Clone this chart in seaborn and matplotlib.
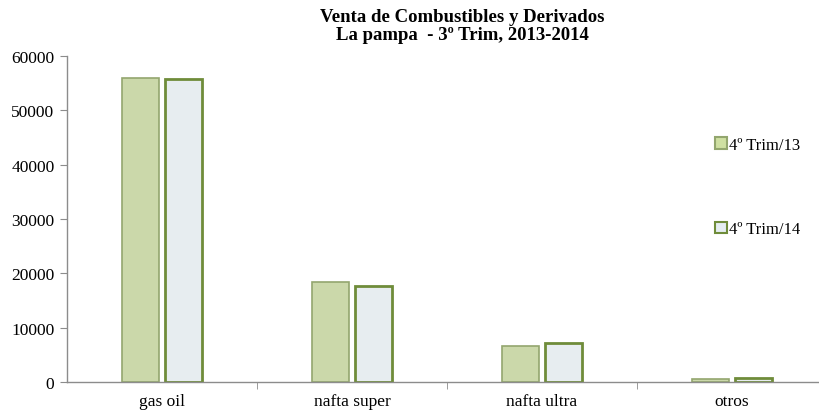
import pandas as pd
import numpy as np
import matplotlib
matplotlib.use('Agg')
import matplotlib.pyplot as plt
import seaborn as sns
from matplotlib.patches import Patch

# datos del gráfico
categorias = ['gas oil', 'nafta super', 'nafta ultra', 'otros']
trim13 = [55900, 18400, 6700, 550]
trim14 = [55800, 17700, 7100, 750]
series = ['4º Trim/13', '4º Trim/14']
yticks = [0, 10000, 20000, 30000, 40000, 50000, 60000]

df = pd.DataFrame({
    'categoria': categorias * 2,
    'valor': trim13 + trim14,
    'serie': [series[0]] * len(categorias) + [series[1]] * len(categorias),
})

sns.set_style('white')
plt.rcParams['font.family'] = ['Liberation Serif', 'DejaVu Serif']
plt.rcParams['text.color'] = 'black'
plt.rcParams['xtick.color'] = 'black'
plt.rcParams['ytick.color'] = 'black'

fill_colors = ['#cfe0a2', '#e5edf1']
edge_colors = ['#93a66e', '#6f8c3a']

fig = plt.figure(figsize=(8.19, 4.14), dpi=100)
ax = fig.add_axes([67 / 819, 31 / 414, 760 / 819, 326 / 414])

sns.barplot(data=df, x='categoria', y='valor', hue='serie', order=categorias,
            hue_order=series, palette=fill_colors, width=0.45, gap=0.12,
            legend=False, ax=ax)

for cont, ec, lw in zip(ax.containers, edge_colors, [1.2, 2.0]):
    for bar in cont:
        bar.set_edgecolor(ec)
        bar.set_linewidth(lw)

ax.set_ylim(0, 60000)
ax.set_xlim(-0.5, 3.5)
ax.set_yticks(yticks)
ax.set_yticklabels([str(v) for v in yticks], fontsize=12.5)
ax.set_xlabel('')
ax.set_ylabel('')
ax.tick_params(axis='x', which='major', length=0, labelsize=12.5, pad=8)
ax.set_xticks([0.5, 1.5, 2.5], minor=True)
ax.tick_params(axis='x', which='minor', length=5, color='#8c8c8c', direction='out', bottom=True)
ax.tick_params(axis='y', length=5, color='#8c8c8c', direction='out', left=True, pad=4)

for side in ['top', 'right']:
    ax.spines[side].set_visible(False)
for side in ['left', 'bottom']:
    ax.spines[side].set_color('#8c8c8c')
    ax.spines[side].set_linewidth(1.0)

fig.text(0.565, 0.978, 'Venta de Combustibles y Derivados\nLa pampa  - 3º Trim, 2013-2014',
         ha='center', va='top', fontsize=13.5, fontweight='bold', linespacing=1.05)

handles = [Patch(facecolor=fill_colors[i], edgecolor=edge_colors[i], linewidth=1.5, label=series[i])
           for i in range(2)]
fig.legend(handles=handles, loc='upper left', bbox_to_anchor=(0.865, 0.683),
           frameon=False, fontsize=12, labelspacing=4.1, handlelength=0.7,
           handleheight=0.7, handletextpad=0.15, borderaxespad=0)

fig.savefig('out.png', dpi=100)
